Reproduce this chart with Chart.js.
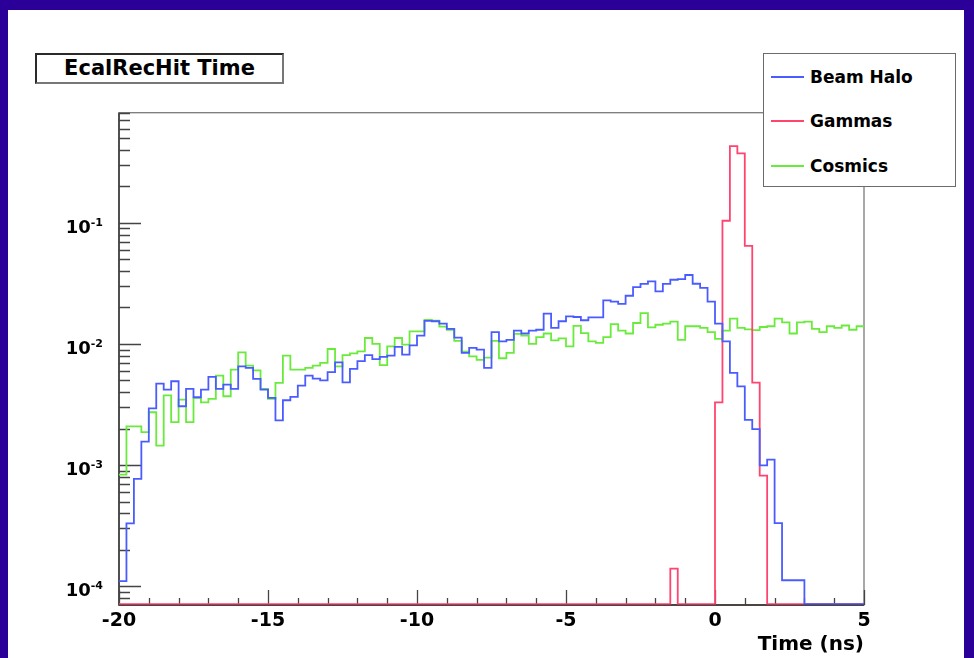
<!DOCTYPE html>
<html>
<head>
<meta charset="utf-8">
<title>EcalRecHit Time</title>
<script src="https://cdn.jsdelivr.net/npm/chart.js@4.4.1/dist/chart.umd.min.js"></script>
<style>
  html, body { margin: 0; padding: 0; width: 974px; height: 658px; overflow: hidden; background: #2b0098; }
  #sheet { position: absolute; left: 8px; top: 10px; width: 956px; height: 648px; background: #fff; }
  #c { position: absolute; left: 0; top: 0; }
  #titlebox {
    position: absolute; left: 35px; top: 53px; width: 249px; height: 31px; box-sizing: border-box;
    border: 2px solid #2a2a2a; border-right-color: #777; border-bottom-color: #777;
    background: #fff; color: #000; text-align: center;
    font: bold 21px "DejaVu Sans", sans-serif; line-height: 27px; white-space: nowrap;
  }
  #legend {
    position: absolute; left: 763px; top: 53px; width: 193px; height: 134px; box-sizing: border-box;
    border: 1.5px solid #6b6b6b; background: #fff;
  }
  #legend .row { position: absolute; left: 0; width: 100%; height: 20px; }
  #legend .swatch { position: absolute; left: 7px; top: 9px; width: 33px; height: 2px; }
  #legend .label {
    position: absolute; left: 46px; top: 0; line-height: 20px; color: #000;
    font: bold 17px "DejaVu Sans", sans-serif; white-space: nowrap;
  }
</style>
</head>
<body>
<div id="sheet"></div>
<canvas id="c" width="974" height="658"></canvas>
<div id="titlebox">EcalRecHit Time</div>
<div id="legend"></div>
<script>
// Histogram binning: 100 bins of 0.25 ns from -20 to 5 ns
const xMin = -20;
const xMax = 5;
const nBins = 100;

// Normalised bin contents (fraction of hits per bin)
const beamHalo = [
  1.10e-4, 3.30e-4, 7.70e-4, 1.56e-3, 2.94e-3, 4.71e-3, 4.20e-3, 4.92e-3, 3.06e-3, 4.25e-3,
  3.63e-3, 4.20e-3, 5.35e-3, 4.25e-3, 4.62e-3, 4.25e-3, 6.53e-3, 6.34e-3, 5.14e-3, 4.20e-3,
  3.59e-3, 2.34e-3, 3.43e-3, 3.66e-3, 4.53e-3, 5.48e-3, 5.18e-3, 5.01e-3, 5.85e-3, 7.05e-3,
  4.82e-3, 6.22e-3, 7.21e-3, 8.09e-3, 7.50e-3, 7.81e-3, 8.01e-3, 9.45e-3, 8.17e-3, 9.73e-3,
  1.17e-2, 1.55e-2, 1.54e-2, 1.47e-2, 1.33e-2, 1.13e-2, 8.43e-3, 9.27e-3, 8.97e-3, 6.34e-3,
  1.25e-2, 1.05e-2, 1.08e-2, 1.29e-2, 1.22e-2, 1.29e-2, 1.31e-2, 1.78e-2, 1.36e-2, 1.54e-2,
  1.69e-2, 1.67e-2, 1.57e-2, 1.66e-2, 1.66e-2, 2.29e-2, 2.24e-2, 2.14e-2, 2.50e-2, 2.95e-2,
  3.13e-2, 3.28e-2, 2.72e-2, 3.13e-2, 3.39e-2, 3.43e-2, 3.71e-2, 3.14e-2, 2.90e-2, 2.24e-2,
  1.47e-2, 1.05e-2, 5.77e-3, 4.47e-3, 2.36e-3, 1.98e-3, 9.93e-4, 1.11e-3, 3.32e-4, 1.12e-4,
  1.12e-4, 1.12e-4, 0, 0, 0, 0, 0, 0, 0, 0
];

const gammas = [
  0, 0, 0, 0, 0, 0, 0, 0, 0, 0,
  0, 0, 0, 0, 0, 0, 0, 0, 0, 0,
  0, 0, 0, 0, 0, 0, 0, 0, 0, 0,
  0, 0, 0, 0, 0, 0, 0, 0, 0, 0,
  0, 0, 0, 0, 0, 0, 0, 0, 0, 0,
  0, 0, 0, 0, 0, 0, 0, 0, 0, 0,
  0, 0, 0, 0, 0, 0, 0, 0, 0, 0,
  0, 0, 0, 0, 1.4e-4, 0, 0, 0, 0, 0,
  3.3e-3, 0.104, 0.43, 0.375, 0.0646, 4.8e-3, 8.2e-4, 0, 0, 0,
  0, 0, 0, 0, 0, 0, 0, 0, 0, 0
];

const cosmics = [
  8.35e-4, 2.09e-3, 2.09e-3, 1.87e-3, 2.73e-3, 1.45e-3, 3.77e-3, 2.26e-3, 3.47e-3, 2.26e-3,
  3.59e-3, 3.30e-3, 3.52e-3, 5.48e-3, 3.70e-3, 6.14e-3, 8.53e-3, 6.62e-3, 6.06e-3, 4.26e-3,
  3.52e-3, 4.77e-3, 8.01e-3, 6.14e-3, 6.14e-3, 6.34e-3, 6.62e-3, 6.97e-3, 9.09e-3, 6.53e-3,
  8.09e-3, 8.36e-3, 8.69e-3, 1.12e-2, 1.00e-2, 6.68e-3, 9.55e-3, 1.12e-2, 9.86e-3, 1.27e-2,
  1.27e-2, 1.58e-2, 1.56e-2, 1.39e-2, 1.31e-2, 1.06e-2, 8.65e-3, 7.91e-3, 7.38e-3, 7.71e-3,
  1.06e-2, 7.62e-3, 8.43e-3, 1.21e-2, 1.17e-2, 1.00e-2, 1.14e-2, 1.22e-2, 1.07e-2, 1.11e-2,
  9.55e-3, 1.41e-2, 1.23e-2, 1.05e-2, 1.02e-2, 1.14e-2, 1.46e-2, 1.29e-2, 1.22e-2, 1.49e-2,
  1.80e-2, 1.37e-2, 1.44e-2, 1.47e-2, 1.53e-2, 1.08e-2, 1.40e-2, 1.40e-2, 1.36e-2, 1.25e-2,
  1.10e-2, 1.29e-2, 1.62e-2, 1.36e-2, 1.32e-2, 1.30e-2, 1.38e-2, 1.40e-2, 1.62e-2, 1.51e-2,
  1.22e-2, 1.51e-2, 1.53e-2, 1.33e-2, 1.25e-2, 1.40e-2, 1.36e-2, 1.42e-2, 1.31e-2, 1.40e-2
];

const seriesLabels = ['Beam Halo', 'Gammas', 'Cosmics'];
const seriesColors = ['#4a5cff', '#ff4470', '#6aeb3c'];

// Log axis range and labelled decades
const yMin = 7.1e-5;
const yMax = 0.811;
const yDecades = [-4, -3, -2, -1];

const FONT = '"DejaVu Sans", sans-serif';

// Bin low edges plus the upper edge of the last bin, drawn as a step outline.
// Empty bins sit on the bottom of the frame, as on a log-scale histogram.
function histPoints(values) {
  const w = (xMax - xMin) / nBins;
  const pts = values.map((v, i) => ({ x: xMin + i * w, y: v > 0 ? v : yMin }));
  const last = values[values.length - 1];
  pts.push({ x: xMax, y: last > 0 ? last : yMin });
  return pts;
}

// Frame, inward tick marks and 10^n labels in the style of a ROOT canvas
const frameAxes = {
  id: 'frameAxes',
  beforeDatasetsDraw(chart) {
    const { ctx, chartArea: a, scales: { x, y } } = chart;
    ctx.save();
    ctx.lineCap = 'butt';
    // frame
    ctx.strokeStyle = '#7a7a7a';
    ctx.lineWidth = 1.3;
    ctx.strokeRect(a.left, a.top, a.right - a.left, a.bottom - a.top);
    // axis lines
    ctx.strokeStyle = '#3a3a3a';
    ctx.lineWidth = 1.6;
    ctx.beginPath();
    ctx.moveTo(a.left, a.top); ctx.lineTo(a.left, a.bottom); ctx.lineTo(a.right, a.bottom);
    ctx.stroke();
    // y ticks: decades long, 2..9 short
    ctx.lineWidth = 1.3;
    ctx.strokeStyle = '#444';
    ctx.beginPath();
    for (let d = -6; d <= 1; d++) {
      for (let m = 1; m <= 9; m++) {
        const v = m * Math.pow(10, d);
        if (v < yMin || v > yMax) continue;
        const py = Math.round(y.getPixelForValue(v)) + 0.5;
        const len = m === 1 ? 22 : 11;
        ctx.moveTo(a.left, py); ctx.lineTo(a.left + len, py);
      }
    }
    // x ticks: every 5 ns long, every 1 ns short
    for (let t = xMin; t <= xMax; t++) {
      const px = Math.round(x.getPixelForValue(t)) + 0.5;
      const len = t % 5 === 0 ? 15 : 7;
      ctx.moveTo(px, a.bottom); ctx.lineTo(px, a.bottom - len);
    }
    ctx.stroke();

    // y labels with superscript exponents
    ctx.fillStyle = '#000';
    ctx.textBaseline = 'alphabetic';
    yDecades.forEach(e => {
      const py = y.getPixelForValue(Math.pow(10, e));
      const sup = String(e);
      ctx.font = 'bold 11px ' + FONT;
      const sw = ctx.measureText(sup).width;
      const right = a.left - 16;
      ctx.textAlign = 'left';
      ctx.fillText(sup, right - sw, py + 3);
      ctx.font = 'bold 18px ' + FONT;
      ctx.textAlign = 'right';
      ctx.fillText('10', right - sw, py + 10);
    });
    ctx.restore();
  },
  // the x axis line sits over the empty bins lying on the frame bottom
  afterDatasetsDraw(chart) {
    const { ctx, chartArea: a } = chart;
    ctx.save();
    ctx.strokeStyle = 'rgba(70, 45, 45, 0.55)';
    ctx.lineWidth = 1.6;
    ctx.beginPath();
    ctx.moveTo(a.left, a.bottom); ctx.lineTo(a.right, a.bottom);
    ctx.stroke();
    ctx.restore();
  }
};

const chart = new Chart(document.getElementById('c'), {
  type: 'line',
  data: {
    datasets: [beamHalo, gammas, cosmics].map((vals, i) => ({
      label: seriesLabels[i],
      data: histPoints(vals),
      borderColor: seriesColors[i],
      borderWidth: 1.8,
      pointRadius: 0,
      fill: false,
      stepped: 'before',
      clip: { left: 1, top: 0, right: 1, bottom: 0 }
    }))
  },
  options: {
    responsive: false,
    animation: false,
    events: [],
    layout: { padding: { top: 112.7, right: 110, bottom: 0, left: 0 } },
    plugins: { legend: { display: false }, tooltip: { enabled: false }, title: { display: false } },
    scales: {
      x: {
        type: 'linear', min: xMin, max: xMax,
        grid: { display: false, drawTicks: false },
        border: { display: false },
        ticks: { stepSize: 5, autoSkip: false, maxRotation: 0, padding: 5, color: '#000',
                 font: { family: FONT, size: 19, weight: 'bold' } },
        title: { display: true, text: 'Time (ns)', align: 'end', color: '#000',
                 font: { family: FONT, size: 20, weight: 'bold', lineHeight: 1 },
                 padding: { top: 0, bottom: 3 } },
        afterFit(s) { s.height = 53; }
      },
      y: {
        type: 'logarithmic', min: yMin, max: yMax,
        grid: { display: false, drawTicks: false },
        border: { display: false },
        ticks: { display: false },
        afterFit(s) { s.width = 119; }
      }
    }
  },
  plugins: [frameAxes]
});

// Legend box built from the chart's datasets
const legendEl = document.getElementById('legend');
const rowCenters = [22.5, 67, 112];
chart.data.datasets.forEach((ds, i) => {
  const row = document.createElement('div');
  row.className = 'row';
  row.style.top = (rowCenters[i] - 10) + 'px';
  const sw = document.createElement('span');
  sw.className = 'swatch';
  sw.style.background = ds.borderColor;
  const lb = document.createElement('span');
  lb.className = 'label';
  lb.textContent = ds.label;
  row.appendChild(sw);
  row.appendChild(lb);
  legendEl.appendChild(row);
});
</script>
</body>
</html>
